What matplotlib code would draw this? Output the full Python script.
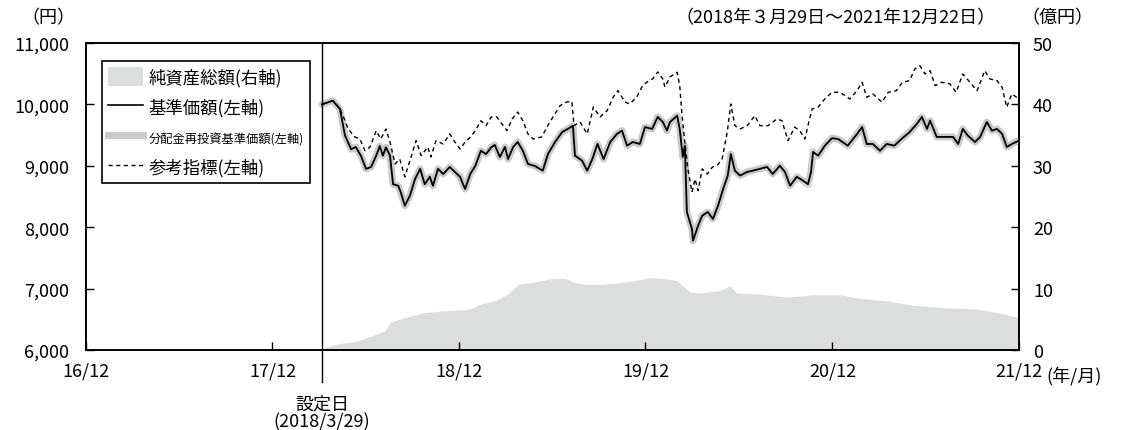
import matplotlib
matplotlib.use("Agg")
import matplotlib.pyplot as plt
import matplotlib.dates as mdates
from matplotlib.patches import Patch
from matplotlib.lines import Line2D
import pandas as pd

plt.rcParams['font.family'] = ['Noto Sans CJK JP', 'DejaVu Sans']

# ---------------- data ----------------
nav_dates = [
    "2018-03-29", "2018-04-19", "2018-05-03", "2018-05-13", "2018-05-25", "2018-06-03", "2018-06-13",
    "2018-06-23", "2018-07-03", "2018-07-13", "2018-07-20", "2018-07-26", "2018-08-01", "2018-08-09",
    "2018-08-15", "2018-08-25", "2018-08-30", "2018-09-07", "2018-09-17", "2018-09-27", "2018-10-07",
    "2018-10-16", "2018-10-26", "2018-11-01", "2018-11-11", "2018-11-21", "2018-12-04", "2018-12-14",
    "2018-12-24", "2019-01-03", "2019-01-13", "2019-01-23", "2019-02-03", "2019-02-13", "2019-02-23",
    "2019-03-02", "2019-03-12", "2019-03-22", "2019-03-28", "2019-04-07", "2019-04-16", "2019-04-26",
    "2019-05-06", "2019-05-20", "2019-06-04", "2019-06-14", "2019-06-28", "2019-07-12", "2019-07-23",
    "2019-08-02", "2019-08-06", "2019-08-20", "2019-08-30", "2019-09-09", "2019-09-19", "2019-10-01",
    "2019-10-14", "2019-10-27", "2019-11-06", "2019-11-16", "2019-11-27", "2019-12-11", "2019-12-21",
    "2020-01-04", "2020-01-15", "2020-01-25", "2020-02-02", "2020-02-08", "2020-02-22", "2020-02-27",
    "2020-03-04", "2020-03-08", "2020-03-12", "2020-03-22", "2020-03-24", "2020-04-03", "2020-04-11",
    "2020-04-22", "2020-05-02", "2020-05-12", "2020-05-22", "2020-05-31", "2020-06-06", "2020-06-14",
    "2020-06-24", "2020-07-08", "2020-07-19", "2020-08-02", "2020-08-16", "2020-08-27", "2020-09-10",
    "2020-09-20", "2020-09-30", "2020-10-13", "2020-10-25", "2020-11-04", "2020-11-10", "2020-11-14",
    "2020-11-24", "2020-12-07", "2020-12-21", "2021-01-02", "2021-01-21", "2021-02-08", "2021-02-18",
    "2021-02-27", "2021-03-11", "2021-03-25", "2021-04-07", "2021-04-22", "2021-05-06", "2021-05-22",
    "2021-06-05", "2021-06-15", "2021-06-25", "2021-07-01", "2021-07-14", "2021-07-30", "2021-08-15",
    "2021-08-25", "2021-09-03", "2021-09-13", "2021-09-27", "2021-10-07", "2021-10-20", "2021-10-30",
    "2021-11-09", "2021-11-19", "2021-11-28", "2021-12-08", "2021-12-22",
]
nav_values = [
    10000, 10060, 9925, 9490, 9270, 9306, 9165,
    8950, 8980, 9165, 9320, 9165, 9300, 9165,
    8700, 8675, 8570, 8350, 8513, 8785, 8950,
    8700, 8820, 8675, 8950, 8866, 8980, 8900,
    8820, 8622, 8866, 9000, 9245, 9190, 9300,
    9340, 9143, 9306, 9110, 9306, 9387, 9245,
    9030, 8995, 8920, 9190, 9387, 9550, 9600,
    9653, 9165, 9083, 8920, 9110, 9355, 9110,
    9387, 9518, 9572, 9328, 9387, 9355, 9630,
    9600, 9795, 9713, 9572, 9713, 9815, 9600,
    9143, 9328, 8247, 7970, 7780, 8025, 8187,
    8247, 8134, 8350, 8622, 8840, 9190, 8920,
    8840, 8900, 8920, 8950, 8980, 8866, 9000,
    8900, 8675, 8820, 8760, 8700, 8900, 9225,
    9165, 9328, 9450, 9436, 9328, 9518, 9630,
    9355, 9355, 9245, 9355, 9328, 9436, 9550,
    9680, 9795, 9600, 9735, 9470, 9470, 9470,
    9355, 9600, 9490, 9387, 9470, 9713, 9572,
    9600, 9518, 9306, 9355, 9410,
]
# no distributions were paid, so the reinvested NAV equals the NAV
reinvest_values = list(nav_values)

idx_dates = [
    "2018-03-29", "2018-04-19", "2018-05-03", "2018-05-13", "2018-05-19", "2018-06-01", "2018-06-11",
    "2018-06-21", "2018-07-01", "2018-07-13", "2018-07-22", "2018-08-01", "2018-08-09", "2018-08-19",
    "2018-08-28", "2018-09-07", "2018-09-17", "2018-09-29", "2018-10-09", "2018-10-22", "2018-10-28",
    "2018-11-07", "2018-11-21", "2018-12-04", "2018-12-14", "2018-12-24", "2019-01-03", "2019-01-14",
    "2019-01-23", "2019-02-03", "2019-02-13", "2019-02-23", "2019-03-06", "2019-03-16", "2019-03-26",
    "2019-04-05", "2019-04-16", "2019-04-26", "2019-05-06", "2019-05-16", "2019-06-02", "2019-06-12",
    "2019-06-24", "2019-07-08", "2019-07-21", "2019-07-31", "2019-08-04", "2019-08-16", "2019-08-30",
    "2019-09-11", "2019-09-24", "2019-10-08", "2019-10-20", "2019-10-29", "2019-11-12", "2019-11-21",
    "2019-12-05", "2019-12-15", "2019-12-25", "2020-01-05", "2020-01-15", "2020-01-25", "2020-01-29",
    "2020-02-08", "2020-02-22", "2020-02-27", "2020-03-02", "2020-03-08", "2020-03-14", "2020-03-22",
    "2020-03-28", "2020-04-03", "2020-04-11", "2020-04-21", "2020-05-01", "2020-05-10", "2020-05-20",
    "2020-05-30", "2020-06-06", "2020-06-14", "2020-06-24", "2020-07-08", "2020-07-23", "2020-08-02",
    "2020-08-18", "2020-09-04", "2020-09-14", "2020-09-26", "2020-10-09", "2020-10-19", "2020-10-29",
    "2020-11-04", "2020-11-12", "2020-11-24", "2020-12-07", "2020-12-21", "2021-01-06", "2021-01-25",
    "2021-02-08", "2021-02-18", "2021-02-27", "2021-03-11", "2021-03-29", "2021-04-10", "2021-04-26",
    "2021-05-08", "2021-05-22", "2021-06-01", "2021-06-11", "2021-06-21", "2021-07-01", "2021-07-11",
    "2021-07-24", "2021-08-09", "2021-08-21", "2021-09-03", "2021-09-17", "2021-10-01", "2021-10-16",
    "2021-10-26", "2021-11-09", "2021-11-19", "2021-11-28", "2021-12-08", "2021-12-22",
]
idx_values = [
    10000, 10060, 9925, 9735, 9600, 9470, 9436,
    9245, 9306, 9572, 9436, 9600, 9387, 9030,
    9110, 8820, 9083, 9410, 9165, 9306, 9143,
    9410, 9355, 9518, 9387, 9273, 9387, 9470,
    9572, 9735, 9653, 9795, 9795, 9680, 9572,
    9762, 9875, 9735, 9518, 9436, 9470, 9630,
    9795, 9980, 10040, 10045, 9653, 9713, 9518,
    9957, 9795, 9898, 10120, 10223, 10040, 10006,
    10120, 10283, 10365, 10414, 10528, 10414, 10283,
    10446, 10523, 10305, 9875, 9387, 8950, 8570,
    8785, 8595, 8950, 8866, 8980, 9000, 9110,
    9550, 10006, 9653, 9600, 9653, 9816, 9653,
    9653, 9762, 9735, 9410, 9630, 9572, 9436,
    9653, 9925, 9957, 10088, 10197, 10197, 10088,
    10223, 10360, 10115, 10170, 10035, 10197, 10223,
    10360, 10387, 10577, 10630, 10495, 10549, 10305,
    10360, 10332, 10197, 10495, 10360, 10223, 10549,
    10414, 10387, 10278, 9953, 10170, 10088,
]

aum_dates = [
    "2018-03-29", "2018-04-29", "2018-06-07", "2018-07-03", "2018-07-30", "2018-08-09", "2018-09-07",
    "2018-10-16", "2018-11-24", "2019-01-09", "2019-02-03", "2019-03-02", "2019-03-28", "2019-04-16",
    "2019-05-12", "2019-06-20", "2019-07-17", "2019-08-06", "2019-08-25", "2019-09-26", "2019-10-29",
    "2019-12-01", "2020-01-02", "2020-01-29", "2020-02-22", "2020-03-18", "2020-04-12", "2020-05-16",
    "2020-06-04", "2020-06-18", "2020-08-02", "2020-09-24", "2020-10-05", "2020-11-14", "2021-01-06",
    "2021-02-14", "2021-04-07", "2021-05-28", "2021-07-26", "2021-10-01", "2021-11-09", "2021-12-22",
]
aum_values = [
    0.3, 1.0, 1.5, 2.3, 3.1, 4.5, 5.3,
    6.1, 6.4, 6.6, 7.5, 8.0, 9.1, 10.7,
    11.0, 11.6, 11.7, 11.0, 10.7, 10.7, 10.9,
    11.3, 11.8, 11.6, 11.3, 9.4, 9.3, 9.7,
    10.4, 9.3, 9.1, 8.6, 8.7, 9.0, 9.0,
    8.4, 8.0, 7.3, 6.9, 6.7, 6.1, 5.3,
]

xtick_dates = ["2016-12-22", "2017-12-22", "2018-12-22", "2019-12-22", "2020-12-22", "2021-12-22"]
xtick_labels = ["16/12", "17/12", "18/12", "19/12", "20/12", "21/12"]
left_ticks = [6000, 7000, 8000, 9000, 10000, 11000]
right_ticks = [0, 10, 20, 30, 40, 50]
launch_date = "2018-03-29"

# ---------------- figure ----------------
fig = plt.figure(figsize=(11.21, 4.31), dpi=100)
ax_r = fig.add_axes([0.0767, 0.1856, 0.8323, 0.7124])
ax = ax_r.twinx()
ax.yaxis.set_ticks_position('left')
ax.yaxis.set_label_position('left')
ax_r.yaxis.set_ticks_position('right')
ax_r.yaxis.set_label_position('right')

aum_d = pd.to_datetime(aum_dates)
nav_d = pd.to_datetime(nav_dates)
idx_d = pd.to_datetime(idx_dates)

GREY_AREA = '#dcdddd'
GREY_BAND = '#c9caca'

ax_r.fill_between(aum_d, 0, aum_values, color=GREY_AREA, linewidth=0)
ax_r.set_ylim(0, 50)
ax_r.set_yticks(right_ticks)
ax_r.set_yticklabels([str(v) for v in right_ticks])

ax.plot(nav_d, reinvest_values, color=GREY_BAND, lw=5, solid_joinstyle='round', solid_capstyle='round')
ax.plot(idx_d, idx_values, color='black', lw=1.0, ls=(0, (3, 2.5)))
ax.plot(nav_d, nav_values, color='black', lw=1.3)
ax.set_ylim(6000, 11000)
ax.set_yticks(left_ticks)
ax.set_yticklabels([f"{v:,}" for v in left_ticks])

xt = pd.to_datetime(xtick_dates)
ax.set_xlim(xt[0], xt[-1])
ax_r.set_xlim(xt[0], xt[-1])
ax_r.set_xticks(xt)
ax_r.set_xticklabels(xtick_labels)

for a in (ax, ax_r):
    a.tick_params(direction='in', length=6, width=1.0, labelsize=13, colors='black', pad=6)
    for s in a.spines.values():
        s.set_linewidth(1.2)
        s.set_color('black')
ax_r.tick_params(axis='y', pad=10)
ax.tick_params(axis='y', pad=12)
ax_r.tick_params(axis='x', pad=8)

# launch line extending below the axis
ld = mdates.date2num(pd.Timestamp(launch_date))
ax.plot([ld, ld], [6000 - 520, 11000], color='black', lw=1.0, clip_on=False, zorder=5)
ax.text(ld, 6000 - 880, "設定日", ha='center', va='center', fontsize=13)
ax.text(ld, 6000 - 1170, "(2018/3/29)", ha='center', va='center', fontsize=13)

# texts at the top
fig.text(0.043, 0.958, "（円）", ha='center', va='center', fontsize=13)
fig.text(0.745, 0.958, "（2018年３月29日～2021年12月22日）", ha='center', va='center', fontsize=13)
fig.text(0.943, 0.958, "（億円）", ha='center', va='center', fontsize=13)
fig.text(0.933, 0.128, "(年/月)", ha='left', va='center', fontsize=13)

# legend
handles = [
    Patch(facecolor=GREY_AREA, edgecolor='none'),
    Line2D([0], [0], color='black', lw=1.2),
    Line2D([0], [0], color=GREY_BAND, lw=5),
    Line2D([0], [0], color='black', lw=1.0, ls=(0, (3, 2.5))),
]
labels = ["純資産総額(右軸)", "基準価額(左軸)", "分配金再投資基準価額(左軸)", "参考指標(左軸)"]
leg = ax.legend(handles, labels, loc='upper left', bbox_to_anchor=(0.017, 0.94),
                frameon=True, fancybox=False, framealpha=1, edgecolor='black',
                fontsize=12.5, handlelength=2.0, handleheight=1.3, handletextpad=0.35,
                labelspacing=0.62, borderpad=0.35, borderaxespad=0)
leg.get_frame().set_linewidth(1.2)
for i, t in enumerate(leg.get_texts()):
    if i == 2:
        t.set_fontsize(8.8)

fig.savefig("out.png", dpi=100)
